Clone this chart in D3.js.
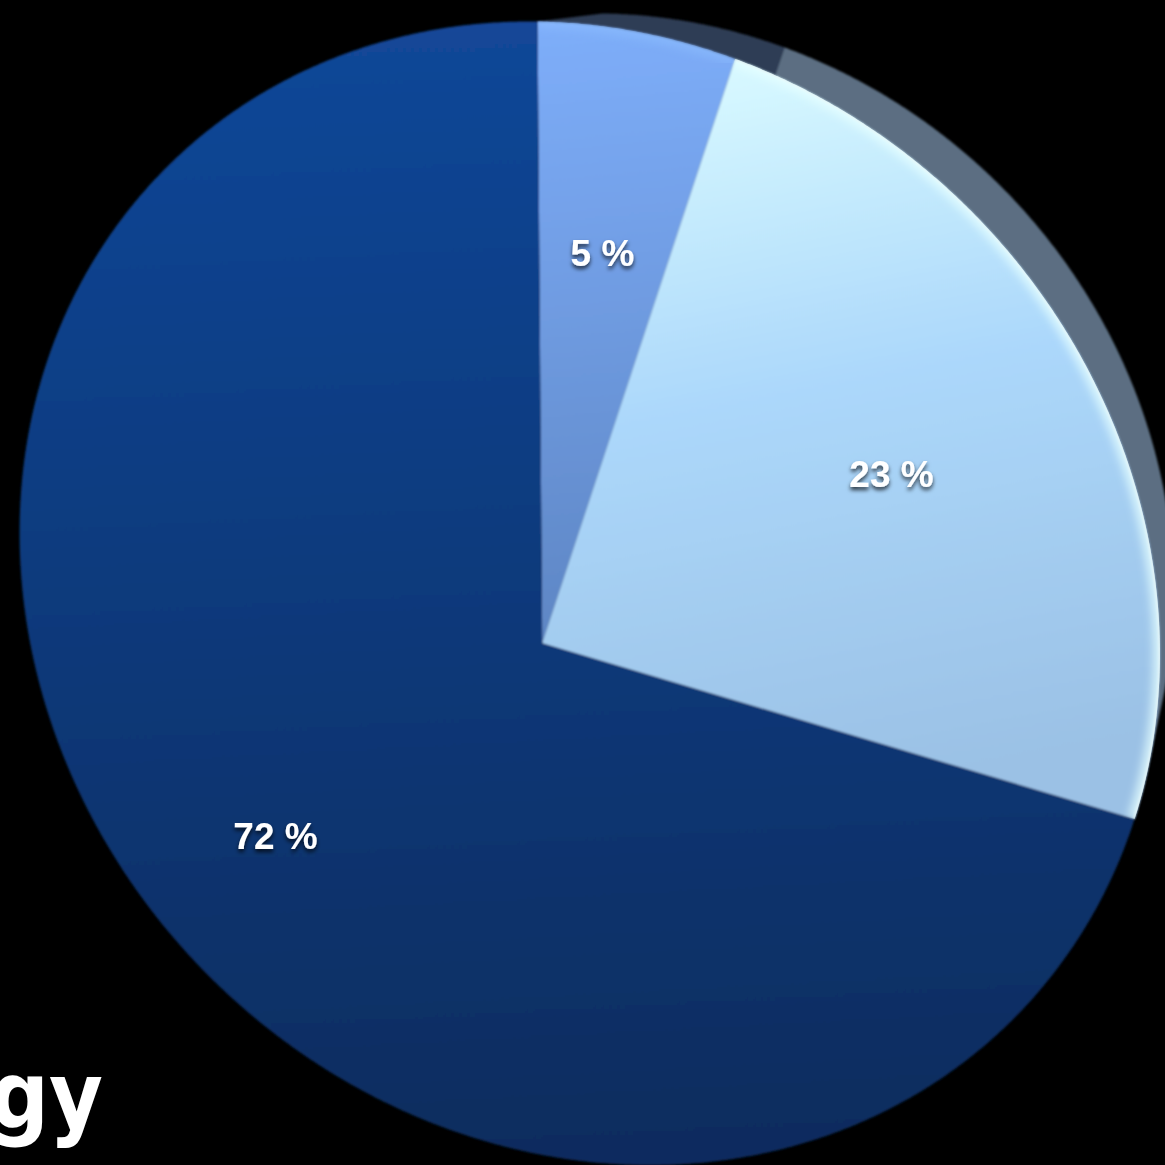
<!DOCTYPE html>
<html>
<head>
<meta charset="utf-8">
<script src="https://cdn.jsdelivr.net/npm/d3@7"></script>
<style>
  html, body { margin: 0; padding: 0; background: #000; overflow: hidden; }
  svg { display: block; }
</style>
</head>
<body>
<svg id="chart" width="1165" height="1165"></svg>
<script>
// Shares of the three segments (percent), drawn clockwise from 12 o'clock
const shares = [5, 23, 72];
const shareLabels = ["5 %", "23 %", "72 %"];
const titleFragment = "gy";

// Styling kept apart from the data
const frontStops = [
  [["0%", "#7eaefa"], ["100%", "#5e86c4"]],
  [["0%", "#d9faff"], ["45%", "#acd8fb"], ["100%", "#9bc1e5"]],
  [["0%", "#124798"], ["45%", "#0d3b7e"], ["100%", "#0a2c5e"]]
];
const wallColors = ["#2d3c54", "#5b6e82", null];

const W = 1165, H = 1165;
const svg = d3.select("#chart");
svg.append("rect").attr("width", W).attr("height", H).attr("fill", "#000");

const pie = d3.pie().sort(null).value(d => d)(shares);

// ---- Tilted disc: unit-circle plane -> screen through a homography ----
function rimPoint(a, r = 1) { return [r * Math.sin(a), -r * Math.cos(a)]; }

function solveLinear(A, b) {
  A = A.map(r => r.slice()); b = b.slice();
  const n = b.length;
  for (let c = 0; c < n; c++) {
    let p = c;
    for (let r = c + 1; r < n; r++) if (Math.abs(A[r][c]) > Math.abs(A[p][c])) p = r;
    [A[c], A[p]] = [A[p], A[c]]; [b[c], b[p]] = [b[p], b[c]];
    for (let r = 0; r < n; r++) {
      if (r === c) continue;
      const f = A[r][c] / A[c][c];
      for (let k = c; k < n; k++) A[r][k] -= f * A[c][k];
      b[r] -= f * b[c];
    }
  }
  return b.map((v, i) => v / A[i][i]);
}

function homFromPoints(src, dst) {
  const A = [], b = [];
  src.forEach(([u, v], i) => {
    const [x, y] = dst[i];
    A.push([u, v, 1, 0, 0, 0, -u * x, -v * x]); b.push(x);
    A.push([0, 0, 0, u, v, 1, -u * y, -v * y]); b.push(y);
  });
  return solveLinear(A, b);
}
function applyHom(h, [u, v]) {
  const w = h[6] * u + h[7] * v + 1;
  return [(h[0] * u + h[1] * v + h[2]) / w, (h[3] * u + h[4] * v + h[5]) / w];
}
function invertHom(h) {
  const [a, b, c, d, e, f, g, k] = h, i = 1;
  const A = e * i - f * k, B = -(d * i - f * g), C = d * k - e * g;
  const D = -(b * i - c * k), E = a * i - c * g, F = -(a * k - b * g);
  const G = b * f - c * e, Hh = -(a * f - c * d), I = a * e - b * d;
  return [A, D, G, B, E, Hh, C, F, I].map(v => v / I);
}

// Anchors: centre and the three slice boundaries on the rim
const anchorSrc = [[0, 0], rimPoint(0), rimPoint(pie[0].endAngle), rimPoint(pie[1].endAngle)];
const anchorDst = [[540, 645], [539, 21], [735, 60], [1137, 818]];
// Screen points
const outline = [
  [380, 40], [480, 25], [850, 113], [1000, 243], [1080, 367], [1140, 500], [1163, 640],
  [50, 350], [25, 450], [20, 550], [33, 650], [62, 750],
  [233, 1000], [400, 1110], [800, 1147], [867, 1117], [933, 1080], [987, 1043], [1033, 1000]
];

function residuals(h) {
  const r = [];
  anchorSrc.forEach((s, i) => {
    const p = applyHom(h, s);
    r.push(p[0] - anchorDst[i][0], p[1] - anchorDst[i][1]);
  });
  const hi = invertHom(h);
  outline.forEach(q => {
    const [u, v] = applyHom(hi, q);
    r.push((Math.hypot(u, v) - 1) * 600);
  });
  return r;
}

function fitHomography(h0) {
  let h = h0.slice(), lambda = 1e-3;
  let r = residuals(h), cost = d3.sum(r, x => x * x);
  for (let it = 0; it < 60; it++) {
    const J = h.map((v, j) => {
      const step = 1e-6 * Math.max(1, Math.abs(v));
      const hp = h.slice(); hp[j] += step;
      const rp = residuals(hp);
      return rp.map((x, k) => (x - r[k]) / step);
    });
    const JTJ = h.map((_, a) => h.map((_, b) => d3.sum(r, (_, k) => J[a][k] * J[b][k])));
    const JTr = h.map((_, a) => d3.sum(r, (x, k) => J[a][k] * x));
    let improved = false;
    for (let tries = 0; tries < 10 && !improved; tries++) {
      const M = JTJ.map((row, a) => row.map((v, b) => a === b ? v * (1 + lambda) : v));
      const delta = solveLinear(M, JTr.map(x => -x));
      const hn = h.map((v, j) => v + delta[j]);
      const rn = residuals(hn), cn = d3.sum(rn, x => x * x);
      if (isFinite(cn) && cn < cost) { h = hn; r = rn; cost = cn; lambda /= 3; improved = true; }
      else lambda *= 4;
    }
    if (!improved) break;
  }
  return h;
}

const hom = fitHomography(homFromPoints(anchorSrc, anchorDst));
const project = p => applyHom(hom, p);

function sectorPoints(d, r = 1) {
  const pts = [[0, 0]];
  const steps = Math.max(8, Math.ceil((d.endAngle - d.startAngle) / 0.005));
  for (let i = 0; i <= steps; i++) {
    pts.push(rimPoint(d.startAngle + (d.endAngle - d.startAngle) * i / steps, r));
  }
  return pts;
}
function arcPoints(d) { return sectorPoints(d).slice(1); }

const line = d3.line();
const defs = svg.append("defs");

frontStops.forEach((stops, i) => {
  const g = defs.append("linearGradient").attr("id", "front" + i)
    .attr("gradientUnits", "userSpaceOnUse")
    .attr("x1", 560).attr("y1", i === 1 ? 90 : 20)
    .attr("x2", i === 1 ? 700 : 620).attr("y2", i === 0 ? 640 : (i === 1 ? 820 : 1165));
  stops.forEach(([o, c]) => g.append("stop").attr("offset", o).attr("stop-color", c));
});

defs.append("filter").attr("id", "soft").attr("x", "-5%").attr("y", "-5%").attr("width", "110%").attr("height", "110%")
  .append("feGaussianBlur").attr("stdDeviation", 0.8);
defs.append("filter").attr("id", "glow").attr("x", "-10%").attr("y", "-10%").attr("width", "120%").attr("height", "120%")
  .append("feGaussianBlur").attr("stdDeviation", 4);
const shadow = defs.append("filter").attr("id", "textShadow")
  .attr("x", "-20%").attr("y", "-30%").attr("width", "140%").attr("height", "170%");
shadow.append("feDropShadow").attr("dx", 0).attr("dy", 3).attr("stdDeviation", 2.2)
  .attr("flood-color", "#000").attr("flood-opacity", 0.75);

// Side walls of the two smaller segments (the disc's thickness)
const wallScale = 0.908, wallShift = [0.103, -0.105];
const walls = svg.append("g").attr("filter", "url(#soft)");
[1, 0].forEach(i => {
  const front = sectorPoints(pie[i]);
  const back = front.map(([u, v]) => [u * wallScale + wallShift[0], v * wallScale + wallShift[1]]);
  const hull = d3.polygonHull(front.concat(back));
  walls.append("path").attr("d", line(hull.map(project)) + "Z").attr("fill", wallColors[i]);
});

// Front faces
const faces = svg.append("g").attr("filter", "url(#soft)");
pie.forEach((d, i) => {
  faces.append("path")
    .attr("d", line(sectorPoints(d).map(project)) + "Z")
    .attr("fill", `url(#front${i})`);
});

// Bright rim glow on the lighter segments
[0, 1].forEach(i => {
  const clipId = "clip" + i;
  defs.append("clipPath").attr("id", clipId)
    .append("path").attr("d", line(sectorPoints(pie[i]).map(project)) + "Z");
  const g = svg.append("g").attr("clip-path", `url(#${clipId})`);
  const rim = line(arcPoints(pie[i]).map(project));
  g.append("path").attr("d", rim).attr("fill", "none")
    .attr("stroke", i === 1 ? "#e6ffff" : "#8fc0ff").attr("stroke-width", 14)
    .attr("stroke-opacity", i === 1 ? 0.75 : 0.5).attr("filter", "url(#glow)");
  if (i === 1) {
    g.append("path").attr("d", rim).attr("fill", "none")
      .attr("stroke", "#f2ffff").attr("stroke-width", 3).attr("stroke-opacity", 0.7)
      .attr("filter", "url(#soft)");
  }
});

// Percentage labels
const labelRadius = [0.665, 0.665, 0.67];
svg.append("g").selectAll("text").data(pie).join("text")
  .attr("transform", (d, i) => {
    const p = project(rimPoint((d.startAngle + d.endAngle) / 2, labelRadius[i]));
    return `translate(${p[0]},${p[1]})`;
  })
  .attr("text-anchor", "middle").attr("dy", "0.36em")
  .attr("font-family", "'Liberation Sans', Arial, Helvetica, sans-serif")
  .attr("font-weight", "bold").attr("font-size", 37)
  .attr("fill", "#fff").attr("filter", "url(#textShadow)")
  .text((d, i) => shareLabels[i]);

// Tail of the slide title
svg.append("text")
  .attr("x", 103).attr("y", 1128).attr("text-anchor", "end")
  .attr("font-family", "'DejaVu Sans Condensed', 'DejaVu Sans', sans-serif")
  .attr("font-weight", "bold").attr("font-size", 92)
  .attr("fill", "#fff")
  .text(titleFragment);
</script>
</body>
</html>
